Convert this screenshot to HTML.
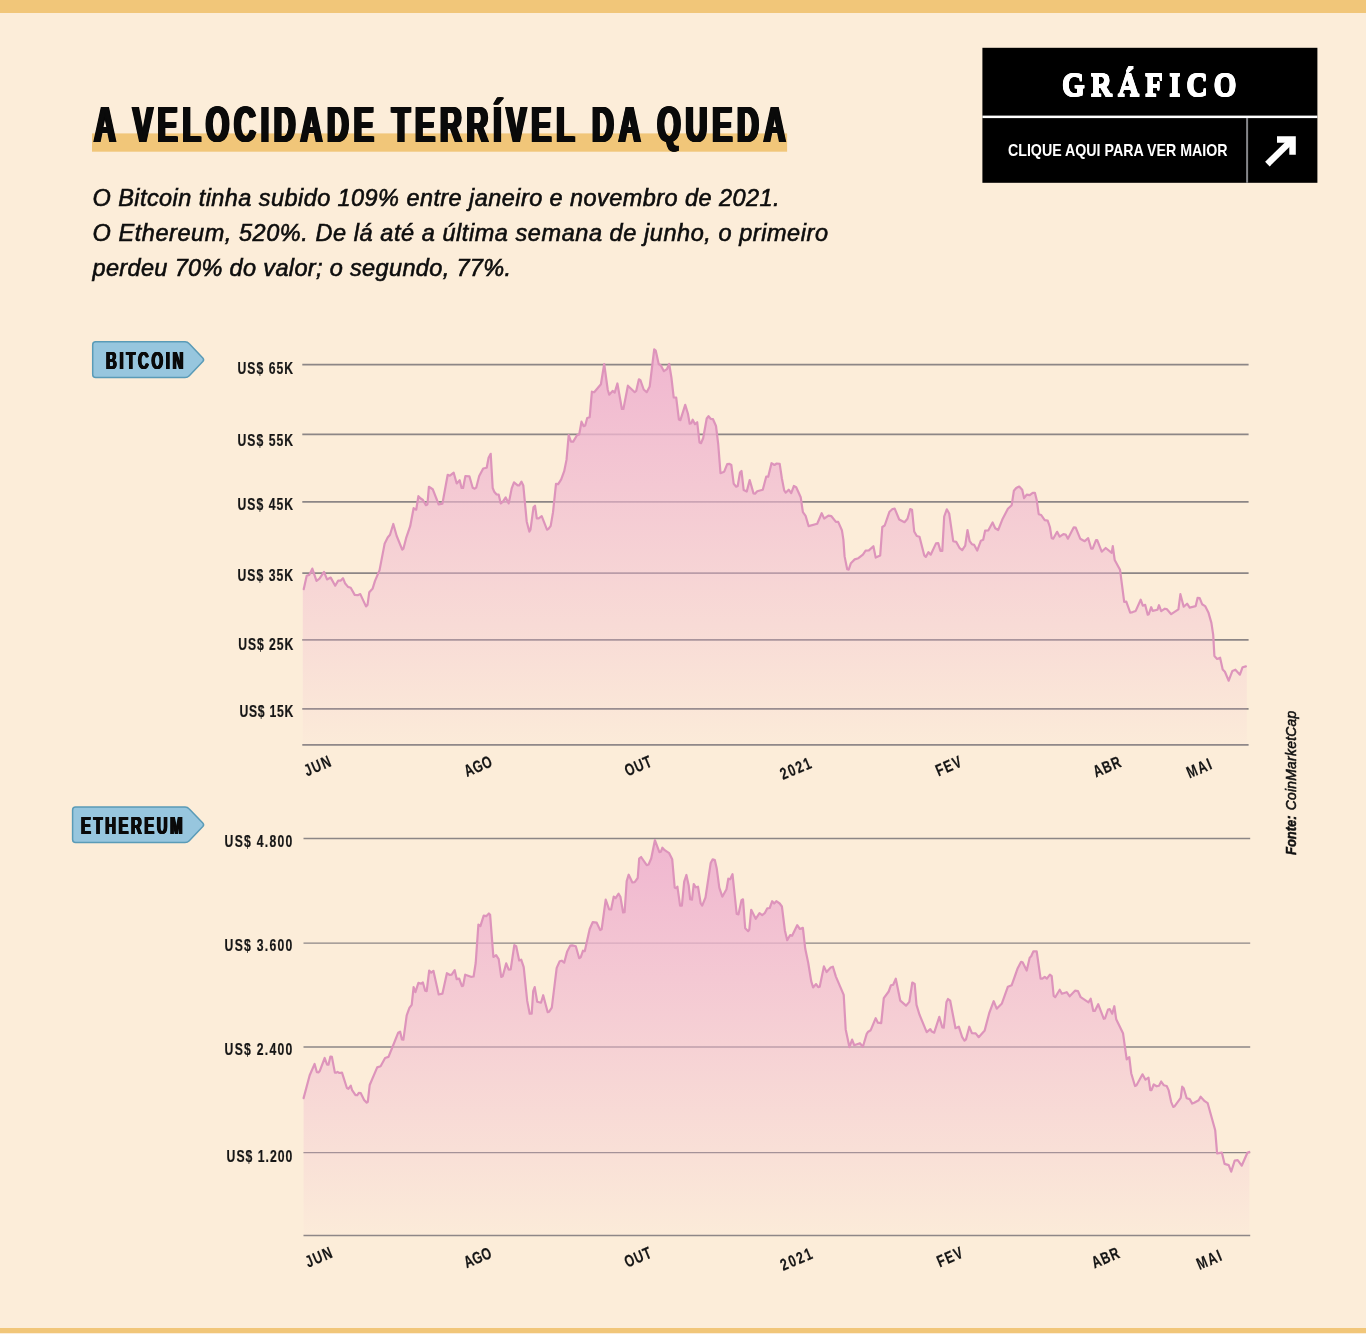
<!DOCTYPE html>
<html lang="pt-BR">
<head>
<meta charset="utf-8">
<title>A velocidade terrível da queda</title>
<style>
html,body{margin:0;padding:0;}
body{width:1366px;height:1334px;position:relative;overflow:hidden;background:#fcedd9;font-family:"Liberation Sans","DejaVu Sans",sans-serif;color:#111;}
.abs{position:absolute;white-space:nowrap;transform-origin:0 0;line-height:1;margin:0;}
.band{position:absolute;left:0;width:1366px;background:#f1c679;}
#title{left:93.9px;top:100.14px;font-size:50.4px;font-weight:700;letter-spacing:7.95px;transform:scaleX(0.6);color:#0a0a0a;text-shadow:-2.5px 0 0 #0a0a0a,-1.7px 0 0 #0a0a0a,-0.85px 0 0 #0a0a0a,0.85px 0 0 #0a0a0a,1.7px 0 0 #0a0a0a,2.5px 0 0 #0a0a0a;}
#gtitle{left:1062.4px;top:68.31px;font-family:"Liberation Serif","DejaVu Serif",serif;font-weight:700;font-size:33.3px;letter-spacing:6.84px;transform:scaleX(0.88);color:#fff;text-shadow:0 0.8px 0 #fff,0 -0.8px 0 #fff,0.45px 0.8px 0 #fff,-0.45px 0.8px 0 #fff,0.45px -0.8px 0 #fff,-0.45px -0.8px 0 #fff,0.45px 0 0 #fff,-0.45px 0 0 #fff;}
.tagt{font-weight:700;font-size:24.8px;color:#0a0a0a;text-shadow:-1.3px 0 0 #0a0a0a,-0.65px 0 0 #0a0a0a,0.65px 0 0 #0a0a0a,1.3px 0 0 #0a0a0a;}
svg{position:absolute;left:0;top:0;}
.yl{font-family:"Liberation Sans","DejaVu Sans",sans-serif;font-weight:700;font-size:16.6px;fill:#161616;stroke:#161616;stroke-width:0.2px;}
.sub{font-family:"Liberation Sans","DejaVu Sans",sans-serif;font-style:italic;font-size:23.5px;fill:#0d0d0d;stroke:#0d0d0d;stroke-width:0.6px;}
.fo{font-family:"Liberation Sans","DejaVu Sans",sans-serif;font-style:italic;font-size:13.8px;fill:#111;}
.gs{font-family:"Liberation Sans","DejaVu Sans",sans-serif;font-weight:700;font-size:15.7px;fill:#fff;}
</style>
</head>
<body>
<div class="band" style="top:0;height:13px"></div>
<div class="band" style="top:1328px;height:5px"></div>

<svg id="charts" width="1366" height="1334" viewBox="0 0 1366 1334">
<defs>
<linearGradient id="gb" gradientUnits="userSpaceOnUse" x1="0" y1="348" x2="0" y2="745"><stop offset="0" stop-color="#f0b6d0" stop-opacity="1"/><stop offset="1" stop-color="#f0b6d0" stop-opacity="0.04"/></linearGradient>
<linearGradient id="ge" gradientUnits="userSpaceOnUse" x1="0" y1="840" x2="0" y2="1235.5"><stop offset="0" stop-color="#f0b6d0" stop-opacity="1"/><stop offset="1" stop-color="#f0b6d0" stop-opacity="0.04"/></linearGradient>
</defs>
<rect x="92" y="133.4" width="695.1" height="18.3" fill="#f1c679"/>
<text class="sub" x="92.5" y="205.7" textLength="687" lengthAdjust="spacing">O Bitcoin tinha subido 109% entre janeiro e novembro de 2021.</text>
<text class="sub" x="92.5" y="241.2" textLength="735.5" lengthAdjust="spacing">O Ethereum, 520%. De lá até a última semana de junho, o primeiro</text>
<text class="sub" x="92.5" y="276.2" textLength="418.5" lengthAdjust="spacing">perdeu 70% do valor; o segundo, 77%.</text>

<rect x="982.4" y="47.8" width="335" height="135" fill="#000"/>
<rect x="982.4" y="115.6" width="335" height="2.5" fill="#fff"/>
<rect x="1246.1" y="118" width="2" height="64.8" fill="#85868a"/>
<text class="gs" x="1008" y="156" textLength="219.5" lengthAdjust="spacingAndGlyphs">CLIQUE AQUI PARA VER MAIOR</text>
<path d="M1267.4 164.1 L1292.5 139.5" stroke="#fff" stroke-width="6.5" fill="none"/>
<path d="M1277 139.45 H1292.55 V154.8" stroke="#fff" stroke-width="6.5" fill="none" stroke-linejoin="miter"/>

<!--BTC-->
<line x1="302.3" x2="1248.6" y1="364.7" y2="364.7" stroke="#8c8686" stroke-width="1.75"/>
<line x1="302.3" x2="1248.6" y1="434.4" y2="434.4" stroke="#8c8686" stroke-width="1.75"/>
<line x1="302.3" x2="1248.6" y1="501.8" y2="501.8" stroke="#8c8686" stroke-width="1.75"/>
<line x1="302.3" x2="1248.6" y1="573.2" y2="573.2" stroke="#8c8686" stroke-width="1.75"/>
<line x1="302.3" x2="1248.6" y1="639.8" y2="639.8" stroke="#8c8686" stroke-width="1.75"/>
<line x1="302.3" x2="1248.6" y1="708.8" y2="708.8" stroke="#8c8686" stroke-width="1.75"/>
<line x1="302.3" x2="1248.6" y1="744.9" y2="744.9" stroke="#8c8686" stroke-width="1.75"/>
<path d="M302.8 589.2 L303.7 589.2 L306.7 575.7 L309.3 574.9 L312.3 568.6 L316.5 580.9 L319.5 578.7 L324.0 571.9 L327.0 579.4 L330.7 577.6 L335.2 585.7 L338.2 580.6 L340.8 580.6 L343.0 578.2 L345.0 583.2 L348.0 586.9 L350.7 587.7 L354.7 594.9 L357.7 595.2 L360.3 594.1 L366.0 606.4 L367.5 604.9 L369.3 592.2 L372.7 588.4 L375.0 580.9 L379.5 570.4 L384.7 543.4 L387.7 537.5 L390.0 534.8 L393.3 524.0 L396.7 536.0 L402.2 549.7 L403.4 548.7 L406.1 538.2 L410.2 526.2 L413.6 508.2 L416.2 509.7 L418.4 496.2 L420.7 498.5 L422.9 500.0 L425.9 505.2 L427.4 504.5 L428.9 486.8 L432.7 489.2 L438.7 504.5 L442.4 503.7 L447.7 474.8 L449.9 475.7 L453.7 472.7 L456.7 483.5 L459.7 480.2 L461.6 488.0 L463.1 488.0 L465.4 476.0 L469.4 476.3 L472.7 487.7 L474.7 488.7 L476.2 487.7 L479.2 476.0 L483.2 468.5 L486.7 467.7 L488.6 457.7 L490.7 453.8 L492.7 488.0 L494.2 491.7 L496.4 494.3 L498.7 494.7 L500.8 503.4 L502.7 501.9 L505.7 497.4 L508.7 503.4 L511.7 488.4 L514.0 482.4 L517.7 485.4 L519.2 485.4 L521.5 481.7 L523.3 485.4 L526.7 521.4 L529.3 531.6 L530.5 529.7 L533.5 507.2 L535.0 505.7 L536.8 518.4 L538.7 518.4 L541.7 516.2 L547.0 529.7 L548.5 528.9 L550.7 525.9 L553.0 512.4 L556.0 483.9 L558.2 484.2 L561.2 479.4 L564.2 471.2 L566.5 459.9 L568.7 435.2 L571.0 441.6 L573.2 441.6 L577.0 435.2 L579.2 434.5 L581.5 421.7 L583.7 426.2 L585.2 425.5 L587.2 418.0 L589.7 417.2 L591.9 391.7 L594.2 392.2 L600.9 384.2 L604.2 364.0 L607.7 389.5 L609.2 394.7 L612.6 391.0 L614.7 392.5 L617.4 383.5 L621.9 409.0 L623.4 409.0 L627.9 385.7 L634.7 392.2 L636.2 391.0 L638.9 379.3 L640.4 380.2 L643.7 389.5 L646.7 392.2 L649.7 386.5 L654.2 349.3 L655.7 350.5 L658.7 364.0 L660.9 365.5 L663.9 371.2 L666.9 369.2 L669.2 364.0 L671.4 377.5 L673.7 397.3 L676.2 397.7 L678.9 419.5 L680.4 420.2 L685.2 404.8 L687.9 413.5 L689.7 423.7 L691.2 423.3 L692.7 419.7 L695.0 424.2 L697.2 422.2 L699.5 442.5 L701.0 443.2 L703.2 438.0 L706.7 418.5 L708.5 416.2 L710.7 418.8 L713.0 419.2 L716.0 426.0 L718.2 444.0 L720.5 473.2 L724.2 471.7 L727.2 464.2 L729.5 463.8 L731.3 465.0 L733.7 483.7 L736.2 486.7 L737.7 486.0 L740.0 472.5 L741.5 471.0 L743.7 490.1 L746.7 491.6 L749.7 480.0 L753.5 493.4 L755.0 493.7 L757.2 491.2 L762.8 489.7 L766.2 476.7 L768.2 476.7 L771.5 463.2 L774.5 465.0 L776.7 463.5 L779.7 463.8 L781.9 478.5 L784.2 490.4 L785.7 492.7 L788.7 489.7 L791.2 493.1 L793.9 486.0 L796.2 487.2 L800.7 497.2 L802.9 512.2 L805.6 515.9 L808.6 526.1 L817.2 523.7 L821.7 513.2 L824.2 518.6 L828.4 515.6 L831.4 516.2 L835.9 521.9 L838.2 521.9 L841.9 530.2 L843.4 539.9 L844.6 556.4 L847.2 569.2 L848.7 569.6 L850.9 563.2 L854.7 559.4 L858.4 558.2 L862.9 554.6 L865.6 550.7 L868.9 550.4 L873.4 546.2 L875.7 557.6 L880.2 555.4 L882.3 527.0 L884.7 525.5 L889.5 511.7 L892.5 509.0 L894.7 508.7 L899.2 519.5 L904.5 522.2 L907.5 518.7 L910.2 509.0 L912.0 509.7 L914.2 531.5 L916.8 536.0 L919.5 536.7 L924.3 555.4 L925.8 556.9 L928.5 552.1 L930.7 554.7 L936.0 543.4 L938.2 543.1 L940.5 550.9 L942.3 550.9 L944.2 516.5 L946.8 509.3 L949.2 513.5 L953.2 541.2 L956.2 541.9 L959.7 548.2 L962.2 550.2 L965.2 545.7 L967.5 530.0 L969.7 541.2 L971.9 544.2 L974.2 544.9 L977.2 550.6 L980.9 540.7 L983.2 539.7 L985.1 530.7 L988.4 530.3 L992.6 522.5 L995.2 528.2 L998.2 530.0 L1002.7 518.7 L1007.9 508.7 L1011.7 505.2 L1013.9 490.7 L1016.2 488.0 L1019.2 486.5 L1022.2 489.8 L1024.1 498.2 L1026.7 494.7 L1029.7 495.2 L1032.7 492.8 L1034.9 492.8 L1036.7 500.0 L1038.7 514.2 L1041.2 515.0 L1044.7 520.2 L1047.7 520.7 L1049.9 527.0 L1051.7 538.2 L1053.2 538.7 L1057.1 531.8 L1059.7 536.7 L1063.4 534.2 L1065.7 534.5 L1067.9 538.7 L1071.2 532.2 L1073.8 527.3 L1075.7 527.7 L1080.2 538.7 L1084.7 541.2 L1088.2 538.2 L1091.2 548.7 L1092.7 548.7 L1096.0 540.2 L1097.2 540.2 L1101.7 551.7 L1105.7 548.0 L1111.7 552.8 L1112.8 546.2 L1114.7 560.0 L1120.0 569.7 L1124.2 601.9 L1126.3 601.6 L1130.2 612.7 L1132.7 612.1 L1135.7 610.9 L1140.7 599.7 L1142.8 605.7 L1145.2 604.9 L1147.7 614.7 L1148.8 614.2 L1151.2 607.2 L1152.7 610.9 L1157.5 609.7 L1159.0 605.2 L1161.2 611.2 L1164.9 608.7 L1166.7 609.1 L1171.2 614.2 L1178.4 609.4 L1180.4 594.2 L1183.7 606.7 L1187.1 603.7 L1189.7 607.6 L1195.7 606.1 L1197.6 597.8 L1199.7 598.2 L1202.1 604.2 L1205.1 606.1 L1208.4 612.4 L1211.4 622.9 L1213.2 634.9 L1214.4 655.9 L1217.1 658.9 L1220.1 657.7 L1222.7 669.4 L1224.9 671.7 L1228.7 680.7 L1232.4 670.9 L1235.4 669.7 L1239.9 674.7 L1242.6 667.2 L1245.9 666.4 L1246.8 666.4 L1246.8 744.9 L302.8 744.9 Z" fill="url(#gb)"/>
<path d="M303.7 589.2 L306.7 575.7 L309.3 574.9 L312.3 568.6 L316.5 580.9 L319.5 578.7 L324.0 571.9 L327.0 579.4 L330.7 577.6 L335.2 585.7 L338.2 580.6 L340.8 580.6 L343.0 578.2 L345.0 583.2 L348.0 586.9 L350.7 587.7 L354.7 594.9 L357.7 595.2 L360.3 594.1 L366.0 606.4 L367.5 604.9 L369.3 592.2 L372.7 588.4 L375.0 580.9 L379.5 570.4 L384.7 543.4 L387.7 537.5 L390.0 534.8 L393.3 524.0 L396.7 536.0 L402.2 549.7 L403.4 548.7 L406.1 538.2 L410.2 526.2 L413.6 508.2 L416.2 509.7 L418.4 496.2 L420.7 498.5 L422.9 500.0 L425.9 505.2 L427.4 504.5 L428.9 486.8 L432.7 489.2 L438.7 504.5 L442.4 503.7 L447.7 474.8 L449.9 475.7 L453.7 472.7 L456.7 483.5 L459.7 480.2 L461.6 488.0 L463.1 488.0 L465.4 476.0 L469.4 476.3 L472.7 487.7 L474.7 488.7 L476.2 487.7 L479.2 476.0 L483.2 468.5 L486.7 467.7 L488.6 457.7 L490.7 453.8 L492.7 488.0 L494.2 491.7 L496.4 494.3 L498.7 494.7 L500.8 503.4 L502.7 501.9 L505.7 497.4 L508.7 503.4 L511.7 488.4 L514.0 482.4 L517.7 485.4 L519.2 485.4 L521.5 481.7 L523.3 485.4 L526.7 521.4 L529.3 531.6 L530.5 529.7 L533.5 507.2 L535.0 505.7 L536.8 518.4 L538.7 518.4 L541.7 516.2 L547.0 529.7 L548.5 528.9 L550.7 525.9 L553.0 512.4 L556.0 483.9 L558.2 484.2 L561.2 479.4 L564.2 471.2 L566.5 459.9 L568.7 435.2 L571.0 441.6 L573.2 441.6 L577.0 435.2 L579.2 434.5 L581.5 421.7 L583.7 426.2 L585.2 425.5 L587.2 418.0 L589.7 417.2 L591.9 391.7 L594.2 392.2 L600.9 384.2 L604.2 364.0 L607.7 389.5 L609.2 394.7 L612.6 391.0 L614.7 392.5 L617.4 383.5 L621.9 409.0 L623.4 409.0 L627.9 385.7 L634.7 392.2 L636.2 391.0 L638.9 379.3 L640.4 380.2 L643.7 389.5 L646.7 392.2 L649.7 386.5 L654.2 349.3 L655.7 350.5 L658.7 364.0 L660.9 365.5 L663.9 371.2 L666.9 369.2 L669.2 364.0 L671.4 377.5 L673.7 397.3 L676.2 397.7 L678.9 419.5 L680.4 420.2 L685.2 404.8 L687.9 413.5 L689.7 423.7 L691.2 423.3 L692.7 419.7 L695.0 424.2 L697.2 422.2 L699.5 442.5 L701.0 443.2 L703.2 438.0 L706.7 418.5 L708.5 416.2 L710.7 418.8 L713.0 419.2 L716.0 426.0 L718.2 444.0 L720.5 473.2 L724.2 471.7 L727.2 464.2 L729.5 463.8 L731.3 465.0 L733.7 483.7 L736.2 486.7 L737.7 486.0 L740.0 472.5 L741.5 471.0 L743.7 490.1 L746.7 491.6 L749.7 480.0 L753.5 493.4 L755.0 493.7 L757.2 491.2 L762.8 489.7 L766.2 476.7 L768.2 476.7 L771.5 463.2 L774.5 465.0 L776.7 463.5 L779.7 463.8 L781.9 478.5 L784.2 490.4 L785.7 492.7 L788.7 489.7 L791.2 493.1 L793.9 486.0 L796.2 487.2 L800.7 497.2 L802.9 512.2 L805.6 515.9 L808.6 526.1 L817.2 523.7 L821.7 513.2 L824.2 518.6 L828.4 515.6 L831.4 516.2 L835.9 521.9 L838.2 521.9 L841.9 530.2 L843.4 539.9 L844.6 556.4 L847.2 569.2 L848.7 569.6 L850.9 563.2 L854.7 559.4 L858.4 558.2 L862.9 554.6 L865.6 550.7 L868.9 550.4 L873.4 546.2 L875.7 557.6 L880.2 555.4 L882.3 527.0 L884.7 525.5 L889.5 511.7 L892.5 509.0 L894.7 508.7 L899.2 519.5 L904.5 522.2 L907.5 518.7 L910.2 509.0 L912.0 509.7 L914.2 531.5 L916.8 536.0 L919.5 536.7 L924.3 555.4 L925.8 556.9 L928.5 552.1 L930.7 554.7 L936.0 543.4 L938.2 543.1 L940.5 550.9 L942.3 550.9 L944.2 516.5 L946.8 509.3 L949.2 513.5 L953.2 541.2 L956.2 541.9 L959.7 548.2 L962.2 550.2 L965.2 545.7 L967.5 530.0 L969.7 541.2 L971.9 544.2 L974.2 544.9 L977.2 550.6 L980.9 540.7 L983.2 539.7 L985.1 530.7 L988.4 530.3 L992.6 522.5 L995.2 528.2 L998.2 530.0 L1002.7 518.7 L1007.9 508.7 L1011.7 505.2 L1013.9 490.7 L1016.2 488.0 L1019.2 486.5 L1022.2 489.8 L1024.1 498.2 L1026.7 494.7 L1029.7 495.2 L1032.7 492.8 L1034.9 492.8 L1036.7 500.0 L1038.7 514.2 L1041.2 515.0 L1044.7 520.2 L1047.7 520.7 L1049.9 527.0 L1051.7 538.2 L1053.2 538.7 L1057.1 531.8 L1059.7 536.7 L1063.4 534.2 L1065.7 534.5 L1067.9 538.7 L1071.2 532.2 L1073.8 527.3 L1075.7 527.7 L1080.2 538.7 L1084.7 541.2 L1088.2 538.2 L1091.2 548.7 L1092.7 548.7 L1096.0 540.2 L1097.2 540.2 L1101.7 551.7 L1105.7 548.0 L1111.7 552.8 L1112.8 546.2 L1114.7 560.0 L1120.0 569.7 L1124.2 601.9 L1126.3 601.6 L1130.2 612.7 L1132.7 612.1 L1135.7 610.9 L1140.7 599.7 L1142.8 605.7 L1145.2 604.9 L1147.7 614.7 L1148.8 614.2 L1151.2 607.2 L1152.7 610.9 L1157.5 609.7 L1159.0 605.2 L1161.2 611.2 L1164.9 608.7 L1166.7 609.1 L1171.2 614.2 L1178.4 609.4 L1180.4 594.2 L1183.7 606.7 L1187.1 603.7 L1189.7 607.6 L1195.7 606.1 L1197.6 597.8 L1199.7 598.2 L1202.1 604.2 L1205.1 606.1 L1208.4 612.4 L1211.4 622.9 L1213.2 634.9 L1214.4 655.9 L1217.1 658.9 L1220.1 657.7 L1222.7 669.4 L1224.9 671.7 L1228.7 680.7 L1232.4 670.9 L1235.4 669.7 L1239.9 674.7 L1242.6 667.2 L1245.9 666.4" fill="none" stroke="#dd94bb" stroke-width="2.2" stroke-linejoin="round" stroke-linecap="round"/>
<text class="yl" transform="translate(237.4 373.8) scale(0.735 1)" textLength="75.9" lengthAdjust="spacing">US$ 65K</text>
<text class="yl" transform="translate(237.4 446.0) scale(0.735 1)" textLength="75.9" lengthAdjust="spacing">US$ 55K</text>
<text class="yl" transform="translate(237.4 509.9) scale(0.735 1)" textLength="75.9" lengthAdjust="spacing">US$ 45K</text>
<text class="yl" transform="translate(237.4 580.9) scale(0.735 1)" textLength="75.9" lengthAdjust="spacing">US$ 35K</text>
<text class="yl" transform="translate(238.3 649.7) scale(0.735 1)" textLength="74.7" lengthAdjust="spacing">US$ 25K</text>
<text class="yl" transform="translate(239.4 716.8) scale(0.735 1)" textLength="73.2" lengthAdjust="spacing">US$ 15K</text>
<text class="yl" transform="translate(307 776.5) rotate(-23) scale(0.74 1)" textLength="36.9" lengthAdjust="spacing">JUN</text>
<text class="yl" transform="translate(467 777) rotate(-23) scale(0.74 1)" textLength="38.5" lengthAdjust="spacing">AGO</text>
<text class="yl" transform="translate(627.5 776.5) rotate(-23) scale(0.74 1)" textLength="37.2" lengthAdjust="spacing">OUT</text>
<text class="yl" transform="translate(783 780) rotate(-23) scale(0.74 1)" textLength="43.2" lengthAdjust="spacing">2021</text>
<text class="yl" transform="translate(938.5 776.5) rotate(-23) scale(0.74 1)" textLength="35.8" lengthAdjust="spacing">FEV</text>
<text class="yl" transform="translate(1096 777.5) rotate(-23) scale(0.74 1)" textLength="38.5" lengthAdjust="spacing">ABR</text>
<text class="yl" transform="translate(1189.5 778.5) rotate(-23) scale(0.74 1)" textLength="34.5" lengthAdjust="spacing">MAI</text>
<!--ETH-->
<line x1="303.5" x2="1250.2" y1="838.5" y2="838.5" stroke="#8c8686" stroke-width="1.4"/>
<line x1="303.5" x2="1250.2" y1="943.1" y2="943.1" stroke="#8c8686" stroke-width="1.4"/>
<line x1="303.5" x2="1250.2" y1="1047" y2="1047" stroke="#8c8686" stroke-width="1.4"/>
<line x1="303.5" x2="1250.2" y1="1152.6" y2="1152.6" stroke="#8c8686" stroke-width="1.4"/>
<line x1="303.5" x2="1250.2" y1="1235.5" y2="1235.5" stroke="#8c8686" stroke-width="1.4"/>
<path d="M303.6 1098.1 L303.6 1098.1 L309.7 1075.2 L314.6 1064.0 L316.9 1072.2 L318.4 1072.4 L319.9 1070.7 L324.7 1058.0 L327.1 1064.7 L328.5 1064.7 L330.4 1056.5 L331.9 1056.9 L334.9 1072.6 L336.4 1072.6 L337.5 1071.9 L339.4 1073.0 L342.0 1072.6 L346.9 1088.0 L348.4 1088.9 L350.8 1085.7 L352.1 1090.2 L355.5 1095.1 L357.3 1095.1 L358.8 1092.8 L360.7 1093.1 L364.1 1100.0 L366.7 1102.6 L367.8 1101.8 L369.7 1085.0 L377.2 1067.4 L380.6 1066.2 L385.1 1058.0 L388.5 1056.9 L394.1 1043.0 L398.2 1032.7 L400.1 1031.6 L401.9 1039.4 L403.4 1039.7 L406.7 1015.4 L409.4 1007.9 L411.7 1004.9 L413.6 987.0 L415.4 992.2 L418.4 982.8 L421.1 983.7 L422.9 982.5 L425.2 990.7 L426.7 991.2 L429.2 970.5 L431.2 972.7 L433.4 970.8 L438.7 994.5 L442.4 993.7 L446.9 973.2 L449.9 975.0 L451.7 974.7 L454.7 970.2 L456.7 979.2 L459.2 978.7 L461.9 986.2 L463.1 985.8 L465.2 974.7 L470.9 976.8 L473.6 976.5 L475.7 963.0 L478.4 924.7 L480.4 926.2 L483.7 915.7 L486.2 916.2 L488.9 913.5 L490.1 914.7 L493.4 957.0 L496.1 955.2 L498.7 959.2 L501.2 976.9 L502.7 976.2 L506.2 963.4 L508.7 969.7 L510.7 969.4 L514.3 945.1 L516.2 946.2 L519.2 960.4 L521.2 959.7 L523.7 967.2 L527.2 1000.9 L529.7 1013.7 L531.7 1013.7 L533.2 991.2 L534.7 987.1 L537.2 1001.7 L541.0 1002.7 L543.2 995.2 L547.7 1012.2 L549.2 1011.7 L551.8 1007.7 L556.7 967.9 L559.7 961.2 L561.7 960.7 L564.2 962.7 L567.2 951.4 L570.2 945.7 L572.2 945.4 L575.8 946.2 L579.2 958.2 L580.7 957.4 L583.0 950.7 L584.8 951.1 L589.7 929.0 L592.7 922.2 L596.7 922.7 L600.2 930.1 L601.7 929.0 L605.7 899.7 L609.2 909.5 L611.1 909.5 L613.7 896.7 L615.6 898.2 L618.6 893.7 L620.4 896.7 L623.1 912.5 L624.6 912.2 L626.7 881.0 L628.7 874.7 L632.4 882.5 L634.7 882.2 L637.7 878.0 L639.2 858.5 L641.1 857.0 L646.7 865.2 L648.6 864.5 L651.2 858.5 L654.9 840.2 L659.4 852.2 L660.9 851.7 L662.4 847.7 L664.7 850.2 L669.2 853.2 L672.2 859.2 L674.7 887.7 L676.2 888.2 L677.4 886.7 L680.1 905.7 L681.9 905.7 L684.2 881.7 L686.4 875.0 L688.7 885.5 L690.2 899.3 L692.0 899.7 L693.8 884.0 L695.7 887.3 L698.0 886.7 L700.7 903.5 L702.2 905.7 L705.5 897.5 L710.7 863.0 L712.7 859.3 L714.8 860.0 L716.7 868.2 L719.3 887.7 L722.3 896.7 L726.5 889.2 L728.3 878.7 L730.2 879.2 L732.5 874.2 L736.7 914.0 L738.5 914.3 L741.5 900.2 L743.0 899.3 L745.2 928.2 L748.2 931.2 L749.3 929.7 L751.2 909.8 L755.7 918.8 L759.5 913.2 L762.2 915.2 L764.7 913.2 L767.3 908.3 L769.7 908.0 L772.2 901.2 L774.2 903.5 L776.3 901.2 L779.7 903.5 L781.9 906.5 L784.9 930.5 L787.2 940.2 L790.2 935.0 L792.1 935.7 L797.2 925.2 L799.9 929.0 L802.9 927.8 L805.2 948.5 L808.2 962.7 L811.2 981.1 L813.1 987.4 L816.1 984.1 L818.2 987.1 L819.7 986.7 L823.9 966.4 L826.6 972.1 L830.7 967.6 L832.9 966.7 L835.9 976.6 L843.7 994.9 L845.7 1029.4 L849.4 1047.1 L852.1 1039.6 L854.2 1045.2 L859.9 1043.2 L862.9 1046.7 L866.7 1033.9 L868.2 1031.7 L870.7 1030.2 L875.7 1018.2 L877.9 1022.7 L881.2 1023.2 L883.8 998.2 L888.7 991.5 L891.0 985.2 L893.2 984.7 L895.8 978.7 L900.3 1000.7 L906.0 1005.7 L909.3 1001.9 L912.3 982.5 L914.7 984.0 L916.5 1004.9 L919.5 1014.7 L926.7 1032.2 L930.3 1029.2 L931.8 1031.6 L934.2 1032.7 L939.3 1016.9 L942.3 1027.4 L943.8 1027.7 L946.5 1001.9 L948.0 999.0 L950.2 1000.7 L955.5 1028.2 L958.8 1026.7 L962.2 1037.2 L964.5 1040.6 L966.0 1039.4 L969.3 1026.7 L971.9 1033.1 L975.7 1033.4 L978.7 1037.2 L984.7 1030.4 L989.2 1013.2 L993.7 1001.2 L996.7 1008.7 L1001.9 1003.4 L1007.9 986.7 L1011.7 985.2 L1017.7 968.2 L1021.1 961.8 L1022.6 962.2 L1026.7 970.5 L1029.7 957.7 L1031.2 956.2 L1033.4 951.3 L1036.7 951.3 L1040.6 978.7 L1042.4 978.7 L1044.7 976.8 L1046.9 978.7 L1049.9 974.7 L1051.7 976.2 L1053.7 996.0 L1055.2 997.2 L1059.7 989.7 L1061.9 993.7 L1066.7 992.2 L1069.7 996.3 L1075.0 990.7 L1078.0 991.2 L1080.7 997.2 L1088.5 1002.3 L1090.7 998.7 L1093.3 1011.0 L1094.8 1011.0 L1098.2 1004.2 L1103.8 1018.8 L1105.0 1018.5 L1108.0 1009.5 L1109.8 1009.2 L1112.2 1013.7 L1114.3 1006.2 L1116.2 1019.2 L1123.0 1033.2 L1126.7 1059.3 L1129.3 1057.2 L1131.2 1073.2 L1135.0 1086.0 L1136.5 1085.2 L1142.5 1074.3 L1145.5 1079.7 L1148.5 1077.7 L1150.3 1090.1 L1151.5 1090.1 L1153.7 1084.5 L1156.7 1086.3 L1159.0 1085.7 L1161.2 1081.5 L1163.7 1085.2 L1166.7 1086.0 L1168.7 1090.4 L1171.2 1102.1 L1173.2 1106.9 L1174.7 1106.2 L1180.7 1097.9 L1182.2 1086.7 L1183.7 1088.2 L1186.7 1098.2 L1189.7 1099.1 L1192.2 1103.6 L1194.2 1102.7 L1198.7 1100.2 L1200.6 1096.7 L1204.7 1101.2 L1207.7 1103.2 L1215.2 1130.2 L1217.1 1153.4 L1221.9 1152.7 L1224.6 1163.9 L1228.7 1165.1 L1231.2 1171.7 L1234.7 1160.6 L1237.7 1160.2 L1241.7 1165.7 L1247.4 1152.7 L1249.2 1151.9 L1249.4 1151.9 L1249.4 1235.5 L303.6 1235.5 Z" fill="url(#ge)"/>
<path d="M303.6 1098.1 L309.7 1075.2 L314.6 1064.0 L316.9 1072.2 L318.4 1072.4 L319.9 1070.7 L324.7 1058.0 L327.1 1064.7 L328.5 1064.7 L330.4 1056.5 L331.9 1056.9 L334.9 1072.6 L336.4 1072.6 L337.5 1071.9 L339.4 1073.0 L342.0 1072.6 L346.9 1088.0 L348.4 1088.9 L350.8 1085.7 L352.1 1090.2 L355.5 1095.1 L357.3 1095.1 L358.8 1092.8 L360.7 1093.1 L364.1 1100.0 L366.7 1102.6 L367.8 1101.8 L369.7 1085.0 L377.2 1067.4 L380.6 1066.2 L385.1 1058.0 L388.5 1056.9 L394.1 1043.0 L398.2 1032.7 L400.1 1031.6 L401.9 1039.4 L403.4 1039.7 L406.7 1015.4 L409.4 1007.9 L411.7 1004.9 L413.6 987.0 L415.4 992.2 L418.4 982.8 L421.1 983.7 L422.9 982.5 L425.2 990.7 L426.7 991.2 L429.2 970.5 L431.2 972.7 L433.4 970.8 L438.7 994.5 L442.4 993.7 L446.9 973.2 L449.9 975.0 L451.7 974.7 L454.7 970.2 L456.7 979.2 L459.2 978.7 L461.9 986.2 L463.1 985.8 L465.2 974.7 L470.9 976.8 L473.6 976.5 L475.7 963.0 L478.4 924.7 L480.4 926.2 L483.7 915.7 L486.2 916.2 L488.9 913.5 L490.1 914.7 L493.4 957.0 L496.1 955.2 L498.7 959.2 L501.2 976.9 L502.7 976.2 L506.2 963.4 L508.7 969.7 L510.7 969.4 L514.3 945.1 L516.2 946.2 L519.2 960.4 L521.2 959.7 L523.7 967.2 L527.2 1000.9 L529.7 1013.7 L531.7 1013.7 L533.2 991.2 L534.7 987.1 L537.2 1001.7 L541.0 1002.7 L543.2 995.2 L547.7 1012.2 L549.2 1011.7 L551.8 1007.7 L556.7 967.9 L559.7 961.2 L561.7 960.7 L564.2 962.7 L567.2 951.4 L570.2 945.7 L572.2 945.4 L575.8 946.2 L579.2 958.2 L580.7 957.4 L583.0 950.7 L584.8 951.1 L589.7 929.0 L592.7 922.2 L596.7 922.7 L600.2 930.1 L601.7 929.0 L605.7 899.7 L609.2 909.5 L611.1 909.5 L613.7 896.7 L615.6 898.2 L618.6 893.7 L620.4 896.7 L623.1 912.5 L624.6 912.2 L626.7 881.0 L628.7 874.7 L632.4 882.5 L634.7 882.2 L637.7 878.0 L639.2 858.5 L641.1 857.0 L646.7 865.2 L648.6 864.5 L651.2 858.5 L654.9 840.2 L659.4 852.2 L660.9 851.7 L662.4 847.7 L664.7 850.2 L669.2 853.2 L672.2 859.2 L674.7 887.7 L676.2 888.2 L677.4 886.7 L680.1 905.7 L681.9 905.7 L684.2 881.7 L686.4 875.0 L688.7 885.5 L690.2 899.3 L692.0 899.7 L693.8 884.0 L695.7 887.3 L698.0 886.7 L700.7 903.5 L702.2 905.7 L705.5 897.5 L710.7 863.0 L712.7 859.3 L714.8 860.0 L716.7 868.2 L719.3 887.7 L722.3 896.7 L726.5 889.2 L728.3 878.7 L730.2 879.2 L732.5 874.2 L736.7 914.0 L738.5 914.3 L741.5 900.2 L743.0 899.3 L745.2 928.2 L748.2 931.2 L749.3 929.7 L751.2 909.8 L755.7 918.8 L759.5 913.2 L762.2 915.2 L764.7 913.2 L767.3 908.3 L769.7 908.0 L772.2 901.2 L774.2 903.5 L776.3 901.2 L779.7 903.5 L781.9 906.5 L784.9 930.5 L787.2 940.2 L790.2 935.0 L792.1 935.7 L797.2 925.2 L799.9 929.0 L802.9 927.8 L805.2 948.5 L808.2 962.7 L811.2 981.1 L813.1 987.4 L816.1 984.1 L818.2 987.1 L819.7 986.7 L823.9 966.4 L826.6 972.1 L830.7 967.6 L832.9 966.7 L835.9 976.6 L843.7 994.9 L845.7 1029.4 L849.4 1047.1 L852.1 1039.6 L854.2 1045.2 L859.9 1043.2 L862.9 1046.7 L866.7 1033.9 L868.2 1031.7 L870.7 1030.2 L875.7 1018.2 L877.9 1022.7 L881.2 1023.2 L883.8 998.2 L888.7 991.5 L891.0 985.2 L893.2 984.7 L895.8 978.7 L900.3 1000.7 L906.0 1005.7 L909.3 1001.9 L912.3 982.5 L914.7 984.0 L916.5 1004.9 L919.5 1014.7 L926.7 1032.2 L930.3 1029.2 L931.8 1031.6 L934.2 1032.7 L939.3 1016.9 L942.3 1027.4 L943.8 1027.7 L946.5 1001.9 L948.0 999.0 L950.2 1000.7 L955.5 1028.2 L958.8 1026.7 L962.2 1037.2 L964.5 1040.6 L966.0 1039.4 L969.3 1026.7 L971.9 1033.1 L975.7 1033.4 L978.7 1037.2 L984.7 1030.4 L989.2 1013.2 L993.7 1001.2 L996.7 1008.7 L1001.9 1003.4 L1007.9 986.7 L1011.7 985.2 L1017.7 968.2 L1021.1 961.8 L1022.6 962.2 L1026.7 970.5 L1029.7 957.7 L1031.2 956.2 L1033.4 951.3 L1036.7 951.3 L1040.6 978.7 L1042.4 978.7 L1044.7 976.8 L1046.9 978.7 L1049.9 974.7 L1051.7 976.2 L1053.7 996.0 L1055.2 997.2 L1059.7 989.7 L1061.9 993.7 L1066.7 992.2 L1069.7 996.3 L1075.0 990.7 L1078.0 991.2 L1080.7 997.2 L1088.5 1002.3 L1090.7 998.7 L1093.3 1011.0 L1094.8 1011.0 L1098.2 1004.2 L1103.8 1018.8 L1105.0 1018.5 L1108.0 1009.5 L1109.8 1009.2 L1112.2 1013.7 L1114.3 1006.2 L1116.2 1019.2 L1123.0 1033.2 L1126.7 1059.3 L1129.3 1057.2 L1131.2 1073.2 L1135.0 1086.0 L1136.5 1085.2 L1142.5 1074.3 L1145.5 1079.7 L1148.5 1077.7 L1150.3 1090.1 L1151.5 1090.1 L1153.7 1084.5 L1156.7 1086.3 L1159.0 1085.7 L1161.2 1081.5 L1163.7 1085.2 L1166.7 1086.0 L1168.7 1090.4 L1171.2 1102.1 L1173.2 1106.9 L1174.7 1106.2 L1180.7 1097.9 L1182.2 1086.7 L1183.7 1088.2 L1186.7 1098.2 L1189.7 1099.1 L1192.2 1103.6 L1194.2 1102.7 L1198.7 1100.2 L1200.6 1096.7 L1204.7 1101.2 L1207.7 1103.2 L1215.2 1130.2 L1217.1 1153.4 L1221.9 1152.7 L1224.6 1163.9 L1228.7 1165.1 L1231.2 1171.7 L1234.7 1160.6 L1237.7 1160.2 L1241.7 1165.7 L1247.4 1152.7 L1249.2 1151.9" fill="none" stroke="#dd94bb" stroke-width="2.2" stroke-linejoin="round" stroke-linecap="round"/>
<text class="yl" transform="translate(224.6 846.8) scale(0.735 1)" textLength="92.2" lengthAdjust="spacing">US$ 4.800</text>
<text class="yl" transform="translate(224.6 950.7) scale(0.735 1)" textLength="92.2" lengthAdjust="spacing">US$ 3.600</text>
<text class="yl" transform="translate(224.6 1054.7) scale(0.735 1)" textLength="92.2" lengthAdjust="spacing">US$ 2.400</text>
<text class="yl" transform="translate(226.6 1161.7) scale(0.735 1)" textLength="89.5" lengthAdjust="spacing">US$ 1.200</text>
<text class="yl" transform="translate(308.2 1267.8) rotate(-23) scale(0.74 1)" textLength="36.9" lengthAdjust="spacing">JUN</text>
<text class="yl" transform="translate(466.7 1268.3) rotate(-23) scale(0.74 1)" textLength="38.5" lengthAdjust="spacing">AGO</text>
<text class="yl" transform="translate(627.2 1267.8) rotate(-23) scale(0.74 1)" textLength="37.2" lengthAdjust="spacing">OUT</text>
<text class="yl" transform="translate(783.2 1271) rotate(-23) scale(0.74 1)" textLength="44.6" lengthAdjust="spacing">2021</text>
<text class="yl" transform="translate(939.7 1267.5) rotate(-23) scale(0.74 1)" textLength="35.8" lengthAdjust="spacing">FEV</text>
<text class="yl" transform="translate(1094.5 1268.5) rotate(-23) scale(0.74 1)" textLength="38.5" lengthAdjust="spacing">ABR</text>
<text class="yl" transform="translate(1199.5 1270) rotate(-23) scale(0.74 1)" textLength="34.5" lengthAdjust="spacing">MAI</text>
<path d="M95.7 341.8 H185 Q187.6 341.8 189.3 343.7 L202.8 357.9 Q204.4 359.7 202.8 361.5 L189.3 375.7 Q187.6 377.6 185 377.6 H95.7 Q92.7 377.6 92.7 374.6 V344.8 Q92.7 341.8 95.7 341.8 Z" fill="#97c6de" stroke="#5a9bb7" stroke-width="1.5"/>
<path d="M75.6 807 H185 Q187.6 807 189.3 808.9 L202.8 823 Q204.4 824.8 202.8 826.6 L189.3 840.7 Q187.6 842.6 185 842.6 H75.6 Q72.6 842.6 72.6 839.6 V810 Q72.6 807 75.6 807 Z" fill="#97c6de" stroke="#5a9bb7" stroke-width="1.5"/>
<g transform="translate(1296.2 855) rotate(-90)"><text class="fo" x="0" y="0" style="font-weight:700" stroke="#111" stroke-width="0.5" textLength="39.5" lengthAdjust="spacingAndGlyphs">Fonte:</text><text class="fo" x="44.7" y="0" textLength="99.6" lengthAdjust="spacing" stroke="#111" stroke-width="0.55">CoinMarketCap</text></g>
</svg>

<div id="gtitle" class="abs">GRÁFICO</div>
<h1 id="title" class="abs">A VELOCIDADE TERRÍVEL DA QUEDA</h1>
<div class="abs tagt" style="left:105.8px;top:348.91px;letter-spacing:4.5px;transform:scaleX(0.60)">BITCOIN</div>
<div class="abs tagt" style="left:81.4px;top:814.21px;letter-spacing:4.3px;transform:scaleX(0.60)">ETHEREUM</div>
</body>
</html>
